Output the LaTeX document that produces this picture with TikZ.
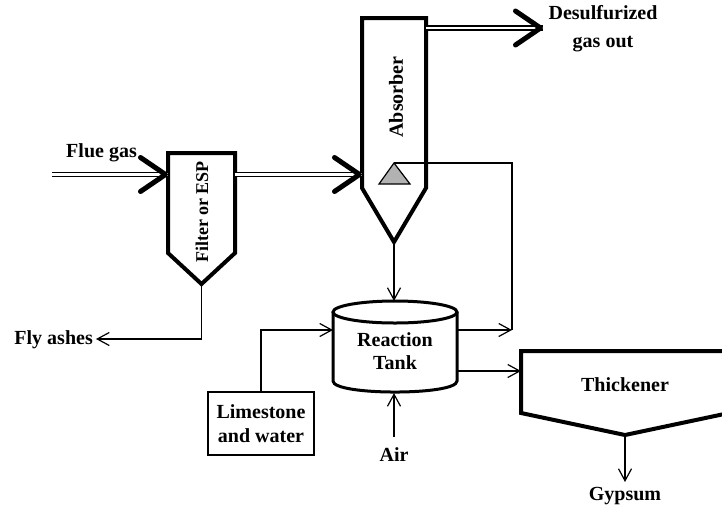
\documentclass[tikz,border=0pt]{standalone}
\usepackage{fontspec}
\setmainfont{Liberation Serif}
\usetikzlibrary{arrows.meta}
\begin{document}
\begin{tikzpicture}[x=1pt,y=-1pt,
  lbl/.style={font=\bfseries\fontsize{20}{23}\selectfont, align=center, inner sep=0pt},
  unit/.style={line width=4pt, line join=miter},
  thinline/.style={line width=1.2pt},
  flow/.style={thinline, -{Straight Barb[length=12pt, width=13pt, line width=1.2pt]}},
  dbl/.style={double=white, double distance=2.5pt, line width=1.3pt},
  bigtip/.style={white, line width=0.2pt, -{Straight Barb[color=black, length=25pt, width=34pt, line width=5pt, round]}},
  tankst/.style={line width=3pt},
]
\useasboundingbox (0,0) rectangle (722,509);
\clip (0,0) rectangle (722,509);

% labels
\node[lbl] (flue) at (101.5,153) {Flue gas};
\node[lbl, rotate=90, font=\bfseries\fontsize{18}{21}\selectfont] (filtertxt) at (202,212) {Filter or ESP};
\node[lbl, rotate=90] (abstxt) at (396,97) {Absorber};
\node[lbl, font=\bfseries\fontsize{20}{28}\selectfont] (desulf) at (603,29) {Desulfurized\\gas out};
\node[lbl] (tank) at (395,351.5) {Reaction\\Tank};
\node[lbl, font=\bfseries\fontsize{20}{24}\selectfont, draw, line width=2.5pt, minimum width=106pt, minimum height=63pt] (lime) at (261,423.5) {Limestone\\and water};
\node[lbl] (air) at (394,455) {Air};
\node[lbl] (thick) at (625,385) {Thickener};
\node[lbl] (gyp) at (625,496) {Gypsum};
\node[lbl, anchor=east] (fly) at (93,340) {Fly ashes};

% named points
\coordinate (flueS) at (52,174.5);
\coordinate (filtW) at (168,174.5);
\coordinate (filtE) at (235,174.5);
\coordinate (absW) at (362,174.5);
\coordinate (absE) at (426,28);
\coordinate (outE) at (543,28);
\coordinate (filtB) at (201.5,284);
\coordinate (absB) at (394,242);
\coordinate (tankT) at (394,301);
\coordinate (tankL) at (333,330);
\coordinate (tankR1) at (457,330);
\coordinate (tankR2) at (457,371);
\coordinate (tankB) at (394,393);
\coordinate (spray) at (394,163);
\coordinate (recyc) at (512,330);
\coordinate (thickL) at (521,371);
\coordinate (thickB) at (625,435);
\coordinate (flyE) at (96,339);
\coordinate (airT) at (394,437);
\coordinate (gypT) at (625,482);

% filter
\draw[unit] (168,153) -- (235,153) -- (235,253) -- (filtB) -- (168,253) -- cycle;
% absorber
\draw[unit] (362,18) -- (426,18) -- (426,188) -- (absB) -- (362,188) -- cycle;
% spray triangle
\draw[thinline, fill=gray!60] (spray) -- (410,184) -- (379,184) -- cycle;
% reaction tank
\draw[tankst] (395,312) ellipse [x radius=62, y radius=11];
\draw[tankst] (333,312) -- (333,381) .. controls (333,395.7) and (457,395.7) .. (457,381) -- (457,312);
% thickener
\draw[unit] (740,351) -- (521,351) -- (521,413) -- (thickB) -- (729,413) -- (740,411);

% gas lines
\draw[dbl] (flueS) -- (filtW);
\draw[bigtip] (flueS) -- (filtW);
\draw[dbl] (filtE) -- (absW);
\draw[bigtip] (filtE) -- (absW);
\draw[dbl] (absE) -- (outE);
\draw[bigtip] (absE) -- (outE);

% liquid / solid lines
\draw[flow] (filtB) |- (flyE);
\draw[flow] (absB) -- (tankT);
\draw[flow] (lime.north) |- (tankL);
\draw[flow] (tankR1) -- (recyc);
\draw[thinline] (recyc) |- (spray);
\draw[flow] (tankR2) -- (thickL);
\draw[flow] (airT) -- (tankB);
\draw[flow] (thickB) -- (gypT);
\end{tikzpicture}
\end{document}
